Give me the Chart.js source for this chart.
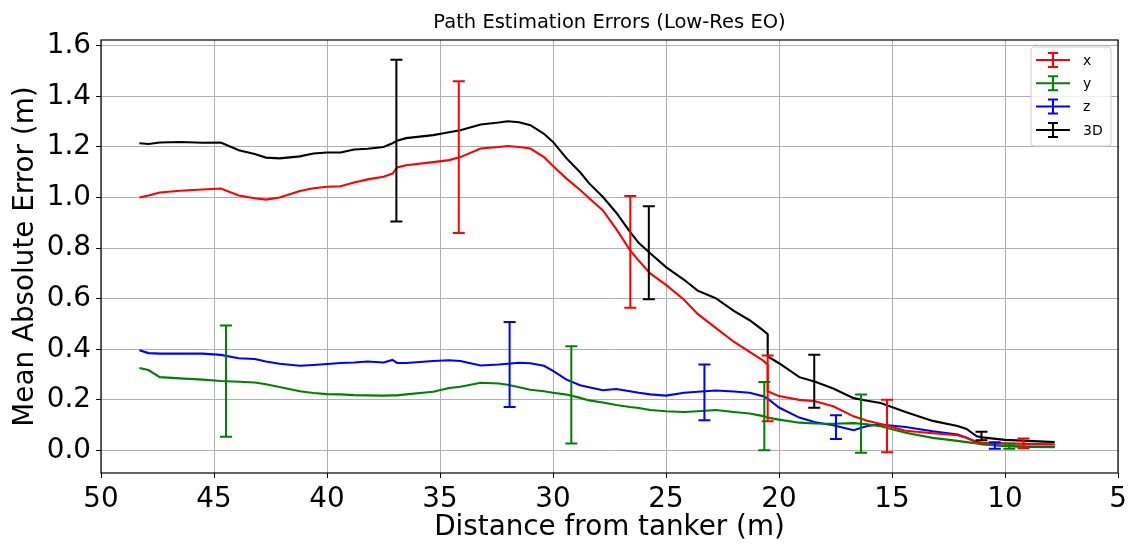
<!DOCTYPE html>
<html lang="en">
<head>
<meta charset="UTF-8">
<title>Path Estimation Errors (Low-Res EO)</title>
<script src="https://cdn.jsdelivr.net/npm/chart.js@4"></script>
<style>
  html, body { margin: 0; padding: 0; background: #fff; }
  #box { width: 1129px; height: 548px; }
</style>
</head>
<body>
<div id="box"><canvas id="chart" width="1129" height="548"></canvas></div>
<script>
// distance from tanker (m), shared by all four curves (20.5 appears twice for the step)
const distance = [48.3, 47.9, 47.4, 46.5, 45.5, 44.7, 43.9, 43.2, 42.7, 42.1, 41.2, 40.6, 40.0, 39.4, 38.8, 38.2,
  37.5, 37.1, 36.9, 36.5, 35.3, 34.6, 34.1, 33.2, 32.4, 32.0, 31.5, 31.0, 30.4, 30.0, 29.4, 28.8, 28.4, 27.8,
  27.2, 26.6, 26.2, 25.7, 25.0, 24.2, 23.6, 22.8, 22.0, 21.3, 20.7, 20.5, 20.5, 20.0, 19.1, 18.4, 17.6, 16.7,
  16.1, 15.5, 14.4, 13.2, 12.1, 11.7, 11.25, 11.0, 10.0, 9.0, 7.8];

const errX = [1.0, 1.008, 1.02, 1.027, 1.032, 1.036, 1.008, 0.997, 0.992, 1.0, 1.026, 1.037, 1.043, 1.045, 1.06, 1.072,
  1.082, 1.095, 1.119, 1.128, 1.14, 1.148, 1.16, 1.194, 1.2, 1.204, 1.2, 1.194, 1.16, 1.125, 1.075, 1.03, 0.997, 0.95,
  0.875, 0.793, 0.75, 0.70, 0.655, 0.596, 0.54, 0.485, 0.43, 0.39, 0.355, 0.339, 0.234, 0.215, 0.2, 0.195, 0.175, 0.135,
  0.118, 0.105, 0.078, 0.068, 0.06, 0.05, 0.033, 0.03, 0.028, 0.026, 0.024];

const errY = [0.326, 0.318, 0.29, 0.285, 0.28, 0.275, 0.272, 0.269, 0.262, 0.251, 0.234, 0.227, 0.223, 0.222, 0.219, 0.218,
  0.217, 0.218, 0.218, 0.222, 0.232, 0.247, 0.252, 0.268, 0.265, 0.26, 0.25, 0.24, 0.234, 0.228, 0.221, 0.208, 0.198, 0.19,
  0.18, 0.172, 0.168, 0.16, 0.155, 0.152, 0.155, 0.16, 0.152, 0.146, 0.136, 0.13, 0.13, 0.122, 0.11, 0.107, 0.106, 0.108,
  0.104, 0.096, 0.07, 0.05, 0.038, 0.033, 0.028, 0.024, 0.018, 0.014, 0.013];

const errZ = [0.396, 0.385, 0.383, 0.383, 0.383, 0.378, 0.365, 0.362, 0.352, 0.343, 0.335, 0.338, 0.342, 0.346, 0.348, 0.352,
  0.348, 0.358, 0.346, 0.346, 0.354, 0.357, 0.354, 0.336, 0.34, 0.343, 0.347, 0.345, 0.335, 0.315, 0.28, 0.258, 0.25, 0.238,
  0.243, 0.234, 0.228, 0.222, 0.217, 0.228, 0.232, 0.237, 0.233, 0.228, 0.215, 0.205, 0.205, 0.17, 0.13, 0.112, 0.1, 0.08,
  0.097, 0.103, 0.093, 0.076, 0.063, 0.05, 0.033, 0.027, 0.018, 0.016, 0.015];

const err3D = [1.215, 1.212, 1.218, 1.22, 1.217, 1.218, 1.187, 1.172, 1.158, 1.155, 1.163, 1.174, 1.178, 1.178, 1.19, 1.193,
  1.2, 1.215, 1.225, 1.235, 1.247, 1.258, 1.266, 1.289, 1.297, 1.302, 1.298, 1.286, 1.252, 1.22, 1.155, 1.1, 1.056, 1.003,
  0.94, 0.865, 0.82, 0.78, 0.725, 0.675, 0.632, 0.602, 0.552, 0.515, 0.475, 0.46, 0.372, 0.345, 0.29, 0.272, 0.245, 0.207,
  0.197, 0.188, 0.152, 0.117, 0.097, 0.085, 0.056, 0.052, 0.042, 0.038, 0.033];

// error bars: [distance, mean, half range]
const barsX = [[34.17, 1.16, 0.30], [26.58, 0.785, 0.221], [20.5, 0.246, 0.13], [15.22, 0.097, 0.104], [9.18, 0.028, 0.019]];
const barsY = [[44.47, 0.274, 0.22], [29.19, 0.22, 0.192], [20.65, 0.136, 0.135], [16.37, 0.106, 0.115], [9.81, 0.017, 0.01]];
const barsZ = [[31.92, 0.34, 0.168], [23.3, 0.23, 0.11], [17.48, 0.092, 0.047], [10.45, 0.02, 0.013]];
const bars3D = [[36.93, 1.225, 0.32], [25.76, 0.782, 0.184], [18.44, 0.274, 0.105], [11.04, 0.057, 0.017]];

const xTicks = [50, 45, 40, 35, 30, 25, 20, 15, 10, 5];
const yTicks = [0, 0.2, 0.4, 0.6, 0.8, 1.0, 1.2, 1.4, 1.6];

const FONT = "'DejaVu Sans', sans-serif";

function pts(vals) {
  return distance.map((d, i) => ({ x: d, y: vals[i] }));
}

const errorBars = {
  id: 'errorBars',
  afterDatasetsDraw(chart) {
    const { ctx, scales: { x, y } } = chart;
    chart.data.datasets.forEach(ds => {
      ctx.save();
      ctx.strokeStyle = ds.borderColor;
      ctx.lineWidth = 2;
      ds.bars.forEach(([d, m, e]) => {
        const px = x.getPixelForValue(d);
        const top = y.getPixelForValue(m + e);
        const bot = y.getPixelForValue(m - e);
        ctx.beginPath();
        ctx.moveTo(px, top); ctx.lineTo(px, bot);
        ctx.moveTo(px - 6, top); ctx.lineTo(px + 6, top);
        ctx.moveTo(px - 6, bot); ctx.lineTo(px + 6, bot);
        ctx.stroke();
      });
      ctx.restore();
    });
  }
};

// frame, title and matplotlib-like legend
const decorations = {
  id: 'decorations',
  afterDraw(chart) {
    const { ctx, chartArea: a } = chart;
    ctx.save();
    ctx.strokeStyle = '#000';
    ctx.lineWidth = 1.2;
    ctx.strokeRect(a.left, a.top, a.right - a.left, a.bottom - a.top);

    ctx.fillStyle = '#000';
    ctx.font = '19.5px ' + FONT;
    ctx.textAlign = 'center';
    ctx.textBaseline = 'alphabetic';
    ctx.fillText('Path Estimation Errors (Low-Res EO)', (a.left + a.right) / 2, 28);

    const bx = a.right - 87, by = a.top + 7, bw = 80, bh = 99;
    ctx.beginPath();
    ctx.roundRect(bx, by, bw, bh, 3);
    ctx.fillStyle = 'rgba(255,255,255,0.8)';
    ctx.fill();
    ctx.strokeStyle = '#cccccc';
    ctx.lineWidth = 1;
    ctx.stroke();

    ctx.font = '14px ' + FONT;
    ctx.textAlign = 'left';
    ctx.textBaseline = 'middle';
    chart.data.datasets.forEach((ds, i) => {
      const cy = by + 13 + i * 23.3;
      const cx = bx + 22;
      ctx.strokeStyle = ds.borderColor;
      ctx.lineWidth = 2;
      ctx.beginPath();
      ctx.moveTo(bx + 5, cy); ctx.lineTo(bx + 39, cy);
      ctx.moveTo(cx, cy - 7); ctx.lineTo(cx, cy + 7);
      ctx.moveTo(cx - 5, cy - 7); ctx.lineTo(cx + 5, cy - 7);
      ctx.moveTo(cx - 5, cy + 7); ctx.lineTo(cx + 5, cy + 7);
      ctx.stroke();
      ctx.fillStyle = '#000';
      ctx.fillText(ds.label, bx + 52, cy + 1);
    });
    ctx.restore();
  }
};

function line(label, color, vals, bars) {
  return {
    label: label, data: pts(vals), bars: bars,
    borderColor: color, backgroundColor: color,
    borderWidth: 2.1, pointRadius: 0, showLine: true, tension: 0
  };
}

new Chart(document.getElementById('chart'), {
  type: 'scatter',
  data: {
    datasets: [
      line('x', '#ff0000', errX, barsX),
      line('y', '#008000', errY, barsY),
      line('z', '#0000ff', errZ, barsZ),
      line('3D', '#000000', err3D, bars3D)
    ]
  },
  options: {
    responsive: false,
    animation: false,
    layout: { padding: { top: 40, right: 11, left: 0, bottom: 0 } },
    plugins: { legend: { display: false }, tooltip: { enabled: false }, title: { display: false } },
    scales: {
      x: {
        type: 'linear', reverse: true, min: 5, max: 50,
        afterBuildTicks: s => { s.ticks = xTicks.map(v => ({ value: v })); },
        afterFit: s => { s.height = 75; s.paddingLeft = 0; s.paddingRight = 0; },
        grid: { color: '#b0b0b0', lineWidth: 1, tickLength: 5, tickColor: '#000', tickWidth: 1 },
        border: { display: false },
        ticks: { color: '#000', font: { family: FONT, size: 27.8 }, padding: 5, maxRotation: 0, autoSkip: false,
                 callback: v => String(v) },
        title: { display: true, text: 'Distance from tanker (m)', color: '#000',
                 font: { family: FONT, size: 27.8 }, padding: { top: 0, bottom: 4 } }
      },
      y: {
        type: 'linear', min: -0.089, max: 1.623,
        afterBuildTicks: s => { s.ticks = yTicks.map(v => ({ value: v })); },
        afterFit: s => { s.width = 101; s.paddingTop = 0; s.paddingBottom = 0; },
        grid: { color: '#b0b0b0', lineWidth: 1, tickLength: 5, tickColor: '#000', tickWidth: 1 },
        border: { display: false },
        ticks: { color: '#000', font: { family: FONT, size: 27.8 }, padding: 5, autoSkip: false,
                 callback: v => v.toFixed(1) },
        title: { display: true, text: 'Mean Absolute Error (m)', color: '#000',
                 font: { family: FONT, size: 27.8 }, padding: { top: 9, bottom: 0 } }
      }
    }
  },
  plugins: [errorBars, decorations]
});
</script>
</body>
</html>
